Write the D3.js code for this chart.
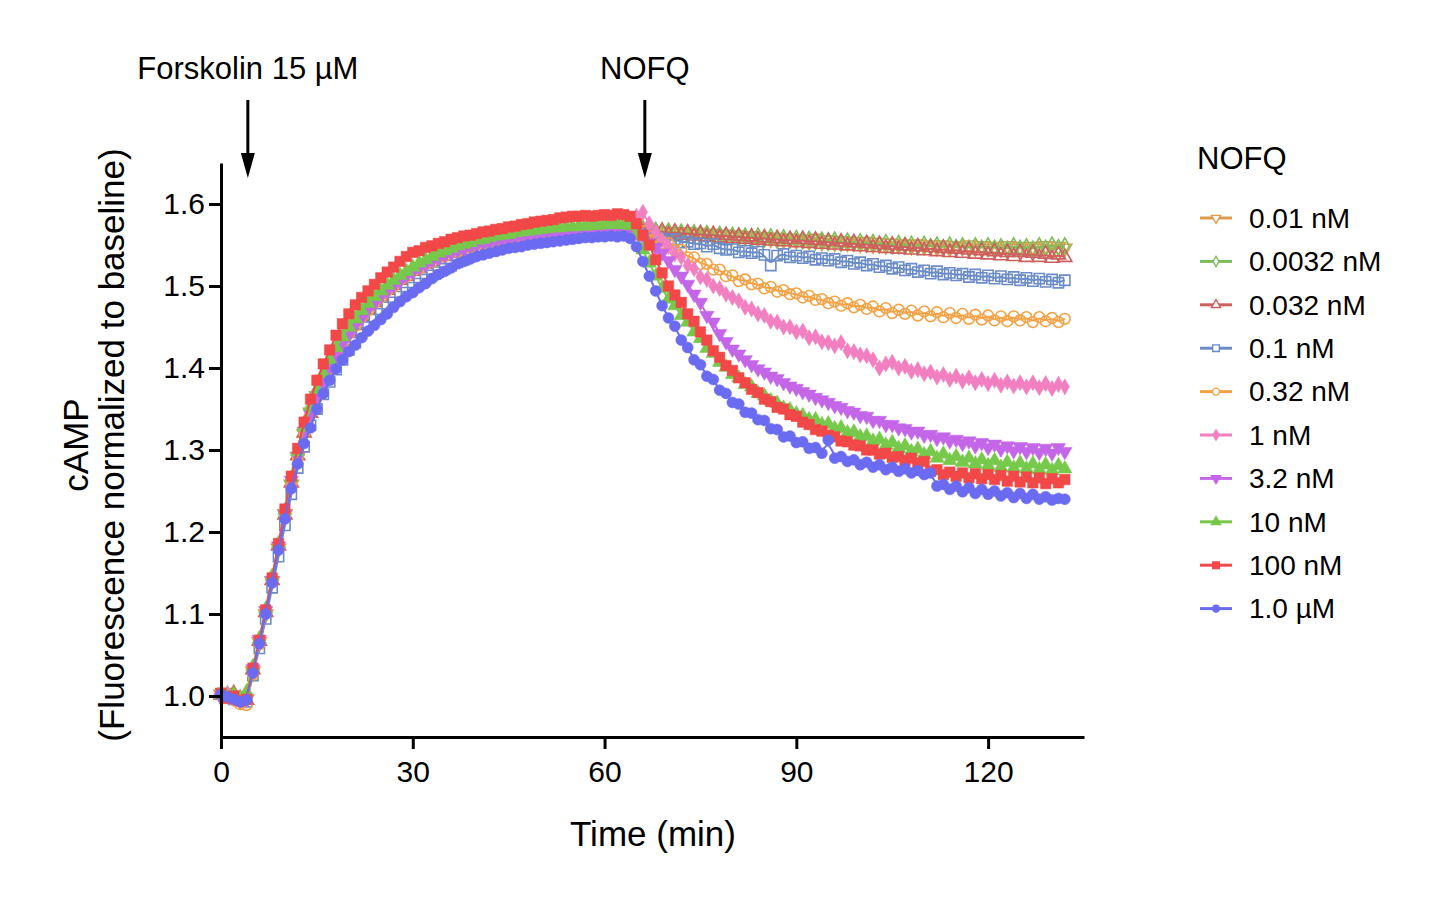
<!DOCTYPE html>
<html><head><meta charset="utf-8">
<script src="https://cdn.jsdelivr.net/npm/d3@7"></script>
<style>
body{margin:0;background:#fff}
svg{display:block}
text{font-family:Arial,"Liberation Sans",Helvetica,sans-serif;fill:#000}
</style>
</head><body>
<svg id="chart" width="1430" height="902"></svg>
<script>
// ---- data ----
const timeMin = d3.range(0, 133); // sampling times, minutes (1-min steps)
const xTicks = [0, 30, 60, 90, 120];
const yTicks = [1.0, 1.1, 1.2, 1.3, 1.4, 1.5, 1.6];
const seriesLabels = ["0.01 nM","0.0032 nM","0.032 nM","0.1 nM","0.32 nM","1 nM","3.2 nM","10 nM","100 nM","1.0 \u00B5M"];
const seriesColors = ["#DE9A4E","#7DBE5A","#CF5F5C","#6B8CC7","#F4A245","#F27FC0","#C466E8","#77C94B","#F24848","#6B6BF2"];
const seriesShapes = ["triDown","diamond","triUp","square","circle","diamond","triDown","triUp","square","circle"];
const seriesFilled = [false,false,false,false,false,true,true,true,true,true];
const annotations = [{label:"Forskolin 15 \u00B5M", t:4.2},{label:"NOFQ", t:66.3}];

const v_0_01nM = [
1.002,1.004,0.999,0.994,0.996,1.030,1.066,1.100,1.140,1.180,
1.222,1.258,1.292,1.320,1.346,1.366,1.386,1.401,1.417,1.430,
1.443,1.453,1.464,1.472,1.481,1.488,1.496,1.501,1.508,1.513,
1.519,1.523,1.528,1.531,1.536,1.538,1.542,1.544,1.547,1.549,
1.552,1.553,1.555,1.556,1.558,1.559,1.561,1.561,1.563,1.563,
1.565,1.565,1.567,1.566,1.568,1.567,1.569,1.568,1.570,1.569,
1.571,1.570,1.572,1.571,1.573,1.570,1.568,1.569,1.566,1.567,
1.565,1.566,1.564,1.566,1.563,1.565,1.562,1.564,1.561,1.563,
1.560,1.562,1.559,1.561,1.558,1.560,1.557,1.559,1.556,1.558,
1.555,1.557,1.554,1.558,1.553,1.556,1.552,1.555,1.552,1.554,
1.551,1.554,1.550,1.553,1.549,1.552,1.549,1.551,1.548,1.551,
1.548,1.550,1.547,1.550,1.546,1.549,1.547,1.550,1.546,1.549,
1.546,1.548,1.545,1.549,1.546,1.548,1.545,1.548,1.546,1.549,
1.545,1.548,1.546];
const v_0_0032nM = [
0.999,1.002,1.001,0.996,0.998,1.028,1.064,1.104,1.144,1.184,
1.224,1.262,1.294,1.323,1.347,1.367,1.385,1.402,1.416,1.431,
1.442,1.454,1.463,1.473,1.480,1.489,1.495,1.502,1.507,1.514,
1.518,1.524,1.527,1.532,1.535,1.539,1.541,1.544,1.546,1.549,
1.551,1.553,1.554,1.556,1.557,1.559,1.560,1.562,1.562,1.564,
1.564,1.566,1.566,1.567,1.567,1.568,1.568,1.569,1.569,1.570,
1.570,1.571,1.571,1.572,1.572,1.569,1.570,1.567,1.568,1.565,
1.567,1.564,1.566,1.563,1.565,1.562,1.564,1.561,1.563,1.560,
1.562,1.559,1.561,1.558,1.561,1.557,1.560,1.556,1.559,1.556,
1.558,1.555,1.557,1.554,1.556,1.553,1.556,1.552,1.555,1.552,
1.554,1.551,1.553,1.550,1.553,1.549,1.552,1.549,1.551,1.548,
1.551,1.548,1.550,1.547,1.550,1.547,1.549,1.546,1.549,1.546,
1.549,1.546,1.548,1.545,1.549,1.546,1.548,1.545,1.549,1.546,
1.550,1.547,1.549];
const v_0_032nM = [
1.001,0.998,1.003,0.997,0.995,1.032,1.067,1.102,1.141,1.183,
1.221,1.260,1.293,1.321,1.345,1.368,1.386,1.403,1.418,1.430,
1.444,1.452,1.463,1.471,1.480,1.487,1.495,1.501,1.507,1.512,
1.518,1.522,1.527,1.530,1.535,1.537,1.541,1.543,1.546,1.548,
1.551,1.552,1.554,1.555,1.557,1.558,1.560,1.561,1.562,1.563,
1.564,1.565,1.566,1.566,1.567,1.568,1.568,1.569,1.569,1.570,
1.570,1.571,1.571,1.572,1.571,1.568,1.566,1.569,1.564,1.567,
1.563,1.566,1.562,1.565,1.561,1.564,1.560,1.563,1.559,1.562,
1.558,1.561,1.557,1.560,1.556,1.559,1.555,1.558,1.554,1.557,
1.553,1.557,1.552,1.556,1.551,1.555,1.550,1.554,1.549,1.553,
1.548,1.552,1.547,1.551,1.546,1.550,1.545,1.549,1.544,1.548,
1.543,1.547,1.542,1.546,1.541,1.545,1.540,1.544,1.539,1.543,
1.538,1.542,1.537,1.541,1.536,1.541,1.535,1.540,1.535,1.539,
1.534,1.538,1.535];
const v_0_1nM = [
1.003,1.000,0.996,0.998,0.993,1.025,1.058,1.094,1.132,1.170,
1.208,1.246,1.278,1.304,1.330,1.350,1.368,1.383,1.398,1.410,
1.422,1.431,1.442,1.450,1.459,1.466,1.474,1.480,1.487,1.492,
1.498,1.503,1.508,1.513,1.517,1.521,1.525,1.529,1.532,1.536,
1.539,1.541,1.544,1.546,1.549,1.550,1.553,1.554,1.556,1.557,
1.559,1.560,1.561,1.562,1.563,1.564,1.565,1.565,1.566,1.566,
1.567,1.567,1.568,1.568,1.569,1.565,1.562,1.563,1.559,1.558,
1.556,1.557,1.553,1.554,1.551,1.552,1.548,1.551,1.546,1.544,
1.545,1.541,1.543,1.540,1.542,1.538,1.525,1.537,1.539,1.535,
1.537,1.534,1.536,1.532,1.534,1.531,1.533,1.529,1.531,1.527,
1.529,1.525,1.527,1.523,1.525,1.521,1.523,1.519,1.521,1.517,
1.519,1.515,1.518,1.514,1.516,1.513,1.515,1.511,1.514,1.510,
1.513,1.509,1.512,1.508,1.511,1.507,1.510,1.506,1.509,1.505,
1.508,1.504,1.507];
const v_0_32nM = [
1.004,0.998,0.995,0.990,0.989,1.026,1.063,1.101,1.139,1.181,
1.220,1.259,1.291,1.322,1.344,1.364,1.385,1.399,1.416,1.428,
1.442,1.451,1.462,1.470,1.479,1.486,1.494,1.499,1.507,1.511,
1.518,1.521,1.527,1.529,1.535,1.536,1.541,1.542,1.546,1.547,
1.551,1.551,1.555,1.554,1.557,1.557,1.560,1.559,1.562,1.561,
1.564,1.563,1.566,1.564,1.567,1.566,1.569,1.567,1.570,1.568,
1.571,1.569,1.572,1.570,1.573,1.568,1.567,1.561,1.560,1.552,
1.552,1.544,1.544,1.535,1.535,1.527,1.527,1.520,1.520,1.512,
1.513,1.506,1.508,1.502,1.503,1.497,1.499,1.493,1.495,1.490,
1.491,1.486,1.488,1.483,1.484,1.479,1.481,1.476,1.479,1.474,
1.477,1.472,1.475,1.469,1.473,1.467,1.471,1.466,1.470,1.464,
1.469,1.463,1.468,1.462,1.467,1.461,1.466,1.460,1.465,1.459,
1.464,1.458,1.463,1.457,1.463,1.458,1.462,1.456,1.462,1.457,
1.461,1.456,1.460];
const v_1nM = [
1.000,1.003,0.997,0.996,0.995,1.031,1.065,1.103,1.143,1.181,
1.223,1.261,1.294,1.321,1.346,1.368,1.387,1.404,1.419,1.433,
1.445,1.455,1.465,1.474,1.483,1.490,1.498,1.504,1.510,1.515,
1.521,1.525,1.530,1.533,1.537,1.540,1.544,1.546,1.549,1.551,
1.553,1.555,1.557,1.558,1.560,1.561,1.562,1.563,1.565,1.565,
1.566,1.567,1.568,1.568,1.569,1.569,1.570,1.571,1.571,1.572,
1.572,1.573,1.574,1.574,1.578,1.585,1.590,1.576,1.566,1.556,
1.548,1.539,1.535,1.525,1.521,1.511,1.508,1.500,1.497,1.490,
1.486,1.482,1.474,1.472,1.466,1.464,1.457,1.456,1.450,1.450,
1.444,1.445,1.437,1.438,1.432,1.431,1.427,1.431,1.421,1.420,
1.416,1.415,1.410,1.400,1.405,1.407,1.400,1.402,1.396,1.398,
1.393,1.395,1.389,1.392,1.386,1.390,1.384,1.388,1.382,1.386,
1.381,1.385,1.379,1.383,1.378,1.382,1.377,1.382,1.376,1.381,
1.375,1.380,1.377];
const v_3_2nM = [
0.998,1.001,0.999,0.995,0.997,1.033,1.069,1.104,1.141,1.183,
1.221,1.263,1.292,1.323,1.344,1.366,1.383,1.401,1.414,1.430,
1.440,1.453,1.461,1.472,1.479,1.488,1.494,1.501,1.506,1.513,
1.517,1.523,1.526,1.531,1.534,1.538,1.540,1.544,1.545,1.549,
1.550,1.553,1.553,1.556,1.556,1.559,1.559,1.561,1.561,1.563,
1.563,1.565,1.565,1.566,1.566,1.567,1.567,1.568,1.569,1.569,
1.570,1.571,1.571,1.572,1.571,1.566,1.560,1.553,1.547,1.540,
1.531,1.520,1.512,1.502,1.490,1.480,1.464,1.456,1.442,1.432,
1.423,1.417,1.410,1.404,1.399,1.395,1.390,1.387,1.382,1.378,
1.375,1.371,1.368,1.364,1.361,1.358,1.354,1.352,1.348,1.346,
1.342,1.341,1.336,1.336,1.331,1.331,1.327,1.326,1.322,1.323,
1.318,1.319,1.314,1.316,1.311,1.313,1.308,1.311,1.305,1.309,
1.303,1.307,1.301,1.305,1.299,1.304,1.298,1.303,1.297,1.302,
1.296,1.303,1.298];
const v_10nM = [
1.001,0.999,1.002,0.997,1.005,1.036,1.070,1.106,1.146,1.186,
1.226,1.266,1.298,1.328,1.353,1.374,1.393,1.410,1.425,1.438,
1.450,1.460,1.470,1.479,1.487,1.494,1.501,1.507,1.513,1.518,
1.523,1.528,1.532,1.536,1.540,1.543,1.546,1.549,1.551,1.553,
1.556,1.557,1.559,1.561,1.562,1.563,1.565,1.566,1.567,1.568,
1.569,1.570,1.571,1.571,1.572,1.572,1.573,1.573,1.574,1.574,
1.575,1.575,1.576,1.575,1.574,1.562,1.544,1.528,1.512,1.497,
1.484,1.476,1.464,1.456,1.444,1.436,1.424,1.418,1.407,1.401,
1.392,1.388,1.380,1.377,1.369,1.366,1.360,1.357,1.351,1.349,
1.344,1.342,1.337,1.337,1.331,1.332,1.326,1.327,1.321,1.322,
1.316,1.317,1.311,1.313,1.306,1.309,1.302,1.305,1.298,1.301,
1.294,1.298,1.290,1.295,1.287,1.292,1.285,1.290,1.283,1.288,
1.281,1.287,1.279,1.285,1.278,1.284,1.277,1.283,1.276,1.282,
1.275,1.281,1.277];
const v_100nM = [
1.003,0.997,1.000,0.994,0.996,1.034,1.068,1.105,1.144,1.186,
1.228,1.268,1.302,1.334,1.362,1.385,1.405,1.422,1.440,1.454,
1.466,1.477,1.486,1.494,1.502,1.510,1.517,1.523,1.530,1.536,
1.541,1.543,1.547,1.549,1.552,1.554,1.557,1.559,1.561,1.562,
1.564,1.566,1.567,1.569,1.570,1.572,1.573,1.575,1.576,1.578,
1.579,1.580,1.581,1.583,1.584,1.585,1.585,1.586,1.585,1.586,
1.587,1.586,1.588,1.587,1.585,1.576,1.562,1.550,1.532,1.516,
1.500,1.489,1.480,1.466,1.457,1.444,1.434,1.421,1.413,1.403,
1.397,1.388,1.382,1.374,1.370,1.362,1.359,1.352,1.350,1.343,
1.341,1.334,1.331,1.325,1.323,1.318,1.316,1.311,1.310,1.306,
1.305,1.300,1.300,1.295,1.296,1.291,1.292,1.287,1.290,1.284,
1.286,1.274,1.276,1.270,1.273,1.268,1.272,1.266,1.271,1.265,
1.270,1.264,1.269,1.262,1.268,1.261,1.267,1.260,1.266,1.259,
1.265,1.260,1.264];
const v_1uM = [
1.002,0.999,0.996,0.993,0.995,1.028,1.064,1.100,1.138,1.178,
1.216,1.253,1.283,1.308,1.327,1.350,1.369,1.385,1.399,1.410,
1.420,1.428,1.437,1.445,1.452,1.459,1.466,1.474,1.481,1.487,
1.492,1.498,1.503,1.509,1.514,1.518,1.522,1.527,1.530,1.533,
1.536,1.538,1.540,1.542,1.544,1.546,1.547,1.548,1.550,1.551,
1.552,1.553,1.554,1.555,1.556,1.557,1.558,1.559,1.559,1.560,
1.560,1.561,1.560,1.561,1.558,1.548,1.530,1.512,1.494,1.476,
1.461,1.451,1.434,1.425,1.410,1.404,1.390,1.386,1.373,1.369,
1.358,1.356,1.346,1.345,1.337,1.336,1.326,1.325,1.316,1.317,
1.309,1.310,1.302,1.303,1.296,1.312,1.290,1.292,1.286,1.288,
1.282,1.285,1.279,1.282,1.276,1.279,1.274,1.277,1.272,1.275,
1.270,1.272,1.256,1.258,1.252,1.256,1.249,1.254,1.247,1.252,
1.246,1.250,1.244,1.248,1.242,1.247,1.241,1.246,1.240,1.243,
1.239,1.241,1.240];

const seriesValues = [v_0_01nM,v_0_0032nM,v_0_032nM,v_0_1nM,v_0_32nM,v_1nM,v_3_2nM,v_10nM,v_100nM,v_1uM];
seriesValues.forEach((s,i)=>{ if(s.length!==timeMin.length) throw new Error("length mismatch "+seriesLabels[i]+" "+s.length); });

// ---- chart ----
const svg = d3.select("#chart");
const x = d3.scaleLinear().domain([0,135]).range([221,1084]);
const y = d3.scaleLinear().domain([0.95,1.65]).range([737,163]);

function symbolPath(shape, size){
  const map = {circle:d3.symbolCircle, square:d3.symbolSquare, diamond:d3.symbolDiamond, triUp:d3.symbolTriangle, triDown:d3.symbolTriangle};
  return d3.symbol().type(map[shape]).size(size)();
}
const shapeSize = {circle:95, square:110, diamond:75, triUp:90, triDown:90};
const shapeRot = {circle:0, square:0, diamond:0, triUp:0, triDown:180};

const plot = svg.append("g");
const line = d3.line().x((d,i)=>x(timeMin[i])).y(d=>y(d)).curve(d3.curveBasis);

seriesValues.forEach((vals,si)=>{
  const g = plot.append("g");
  const col = seriesColors[si];
  const shp = seriesShapes[si];
  const filled = seriesFilled[si];
  g.append("path").datum(vals).attr("d", line)
    .attr("fill","none").attr("stroke",col).attr("stroke-width",2);
  const p = symbolPath(shp, shapeSize[shp] * (filled ? 1 : 0.95));
  g.selectAll("path.pt").data(vals).join("path").attr("class","pt")
    .attr("d", p)
    .attr("transform",(d,i)=>`translate(${x(timeMin[i])},${y(d)}) rotate(${shapeRot[shp]})`)
    .attr("fill", filled ? col : "none")
    .attr("stroke", col)
    .attr("stroke-width", filled ? 0.5 : 1.6);
});

// axes
const yAxis = d3.axisLeft(y).tickValues(yTicks).tickFormat(d3.format(".1f")).tickSize(12).tickSizeOuter(0).tickPadding(4);
const xAxis = d3.axisBottom(x).tickValues(xTicks).tickFormat(d3.format("d")).tickSize(12).tickSizeOuter(0).tickPadding(12);
const gy = svg.append("g").attr("transform","translate(221,0)").call(yAxis);
const gx = svg.append("g").attr("transform","translate(0,737)").call(xAxis);
[gx,gy].forEach(g=>{
  g.select(".domain").attr("stroke","#000").attr("stroke-width",3);
  g.selectAll(".tick line").attr("stroke","#000").attr("stroke-width",3);
  g.selectAll(".tick text").attr("font-size",30).attr("font-family","Arial, 'Liberation Sans', sans-serif").attr("fill","#000");
});

// axis titles
svg.append("text").attr("x",653).attr("y",846).attr("text-anchor","middle").attr("font-size",35).text("Time (min)");
svg.append("text").attr("transform","translate(88,445) rotate(-90)").attr("text-anchor","middle").attr("font-size",35).text("cAMP");
svg.append("text").attr("transform","translate(124,445) rotate(-90)").attr("text-anchor","middle").attr("font-size",35).text("(Fluorescence normalized to baseline)");

// annotations with arrows
annotations.forEach(a=>{
  const ax = x(a.t);
  svg.append("text").attr("x",ax).attr("y",79).attr("text-anchor","middle").attr("font-size",31).text(a.label);
  svg.append("line").attr("x1",ax).attr("x2",ax).attr("y1",100).attr("y2",158).attr("stroke","#000").attr("stroke-width",3);
  svg.append("path").attr("d",`M${ax-7},153 L${ax+7},153 L${ax},178 Z`).attr("fill","#000");
});

// legend
const lg = svg.append("g");
lg.append("text").attr("x",1197).attr("y",169).attr("font-size",31).text("NOFQ");
seriesLabels.forEach((lab,i)=>{
  const cy = 218 + i*43.4;
  const col = seriesColors[i], shp = seriesShapes[i];
  lg.append("line").attr("x1",1200).attr("x2",1232).attr("y1",cy).attr("y2",cy).attr("stroke",col).attr("stroke-width",3);
  lg.append("path").attr("d", symbolPath(shp, shapeSize[shp]*0.4))
    .attr("transform",`translate(1216,${cy}) rotate(${shapeRot[shp]})`)
    .attr("fill", seriesFilled[i] ? col : "#fff").attr("stroke",col).attr("stroke-width",1.4);
  lg.append("text").attr("x",1249).attr("y",cy).attr("dy","0.35em").attr("font-size",28).text(lab);
});
</script>
</body></html>
